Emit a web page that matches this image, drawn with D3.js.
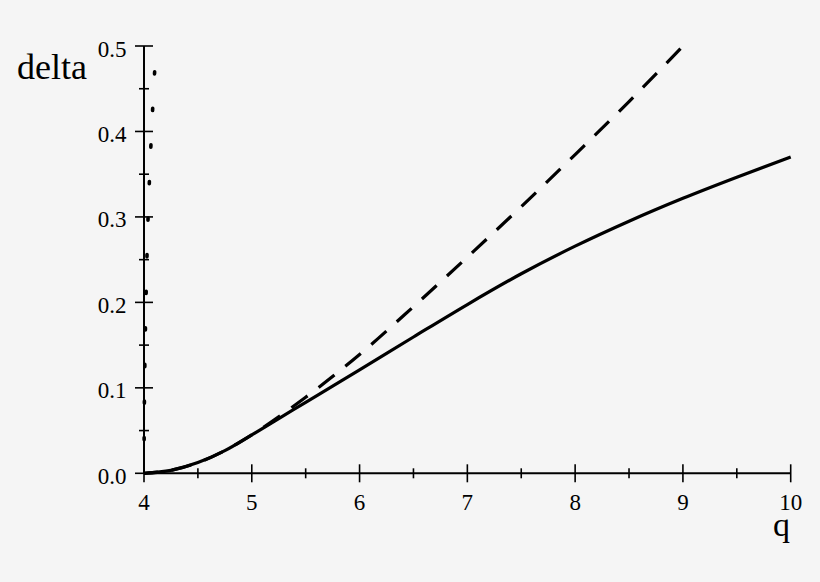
<!DOCTYPE html>
<html>
<head>
<meta charset="utf-8">
<script src="https://cdn.jsdelivr.net/npm/d3@7"></script>
<style>
  html, body { margin: 0; padding: 0; background: #f5f5f5; }
  svg { display: block; }
</style>
</head>
<body>
<svg id="chart" width="820" height="582"></svg>
<script>
// ticks
let xTicks = [4, 5, 6, 7, 8, 9, 10];
let xMinor = [4.5, 5.5, 6.5, 7.5, 8.5, 9.5];
let yTicks = [0.0, 0.1, 0.2, 0.3, 0.4, 0.5];
let yMinor = [0.05, 0.15, 0.25, 0.35, 0.45];
let yTickLabels = ["0.0", "0.1", "0.2", "0.3", "0.4", "0.5"];

// solid curve
let solidQ = [4.0, 4.25, 4.5, 4.75, 5.0, 5.25, 5.5, 5.75, 6.0, 6.5, 7.0, 7.5, 8.0, 8.5, 9.0, 9.5, 10.0];
let solidDelta = [0, 0.0035, 0.0125, 0.0265, 0.045, 0.064, 0.083, 0.102, 0.121, 0.1595, 0.1975, 0.2335, 0.2658, 0.295, 0.3218, 0.3465, 0.370];

// dashed curve
let dashQ = [4.0, 4.25, 4.5, 4.75, 5.0, 5.5, 6.0, 6.5, 7.0, 7.5, 8.0, 8.5, 9.0];
let dashDelta = [0, 0.0035, 0.0125, 0.0265, 0.045, 0.089, 0.139, 0.195, 0.253, 0.312, 0.373, 0.435, 0.5];

// dotted curve (nearly vertical near q = 4)
let dotQ = [4.0, 4.005, 4.018, 4.038, 4.07, 4.112];
let dotDelta = [0, 0.1, 0.2, 0.3, 0.4, 0.5];

let serif = "'Liberation Serif', 'Times New Roman', Times, 'DejaVu Serif', serif";

let svg = d3.select("#chart")
  .attr("font-family", serif);

let x = d3.scaleLinear().domain([4, 10]).range([144, 790.7]);
let y = d3.scaleLinear().domain([0, 0.5]).range([473.3, 46]);

let axisColor = "#000", majorLen = 9, minorLen = 5;

let axes = svg.append("g").attr("class", "axes");

// axis lines
axes.append("line")
  .attr("x1", x(4)).attr("x2", x(10))
  .attr("y1", y(0)).attr("y2", y(0))
  .attr("stroke", axisColor).attr("stroke-width", 2);
axes.append("line")
  .attr("x1", x(4)).attr("x2", x(4))
  .attr("y1", y(0)).attr("y2", y(0.5))
  .attr("stroke", axisColor).attr("stroke-width", 2);

// x ticks
axes.selectAll(".xmajor")
  .data(xTicks)
  .enter()
  .append("line")
  .attr("x1", d => x(d)).attr("x2", d => x(d))
  .attr("y1", y(0) - majorLen).attr("y2", y(0) + majorLen)
  .attr("stroke", axisColor).attr("stroke-width", 1.6);
axes.selectAll(".xminor")
  .data(xMinor)
  .enter()
  .append("line")
  .attr("x1", d => x(d)).attr("x2", d => x(d))
  .attr("y1", y(0) - minorLen).attr("y2", y(0) + minorLen)
  .attr("stroke", axisColor).attr("stroke-width", 1.6);

// y ticks
axes.selectAll(".ymajor")
  .data(yTicks)
  .enter()
  .append("line")
  .attr("x1", x(4) - majorLen).attr("x2", x(4) + majorLen)
  .attr("y1", d => y(d)).attr("y2", d => y(d))
  .attr("stroke", axisColor).attr("stroke-width", 1.6);
axes.selectAll(".yminor")
  .data(yMinor)
  .enter()
  .append("line")
  .attr("x1", x(4) - minorLen).attr("x2", x(4) + minorLen)
  .attr("y1", d => y(d)).attr("y2", d => y(d))
  .attr("stroke", axisColor).attr("stroke-width", 1.6);

// tick labels
axes.selectAll(".xlabel")
  .data(xTicks)
  .enter()
  .append("text")
  .attr("x", d => x(d))
  .attr("y", 509.5)
  .attr("text-anchor", "middle")
  .attr("font-family", serif)
  .attr("font-size", 23)
  .text(d => d);

axes.selectAll(".ylabel")
  .data(yTicks)
  .enter()
  .append("text")
  .attr("x", 126.5)
  .attr("y", d => y(d) + 10.5)
  .attr("text-anchor", "end")
  .attr("font-family", serif)
  .attr("font-size", 23)
  .text((d, i) => yTickLabels[i]);

// axis titles
svg.append("text")
  .attr("x", 17)
  .attr("y", 79)
  .attr("font-family", serif)
  .attr("font-size", 36)
  .text("delta");

svg.append("text")
  .attr("x", 773)
  .attr("y", 536)
  .attr("font-family", serif)
  .attr("font-size", 34)
  .text("q");

// curves
let lineQ = d3.line()
  .x(d => x(d[0]))
  .y(d => y(d[1]))
  .curve(d3.curveMonotoneX);

let lineD = d3.line()
  .x(d => x(d[0]))
  .y(d => y(d[1]))
  .curve(d3.curveMonotoneY);

svg.append("path")
  .datum(d3.zip(solidQ, solidDelta))
  .attr("d", lineQ)
  .attr("fill", "none")
  .attr("stroke", "#000")
  .attr("stroke-width", 3.2);

svg.append("path")
  .datum(d3.zip(dashQ, dashDelta))
  .attr("d", lineQ)
  .attr("fill", "none")
  .attr("stroke", "#000")
  .attr("stroke-width", 3.2)
  .attr("stroke-dasharray", "20,14")
  .attr("stroke-dashoffset", 6);

svg.append("path")
  .datum(d3.zip(dotQ, dotDelta))
  .attr("d", lineD)
  .attr("fill", "none")
  .attr("stroke", "#000")
  .attr("stroke-width", 3.6)
  .attr("stroke-linecap", "round")
  .attr("stroke-dasharray", "2.2,34.4")
  .attr("stroke-dashoffset", 3.1);
</script>
</body>
</html>
